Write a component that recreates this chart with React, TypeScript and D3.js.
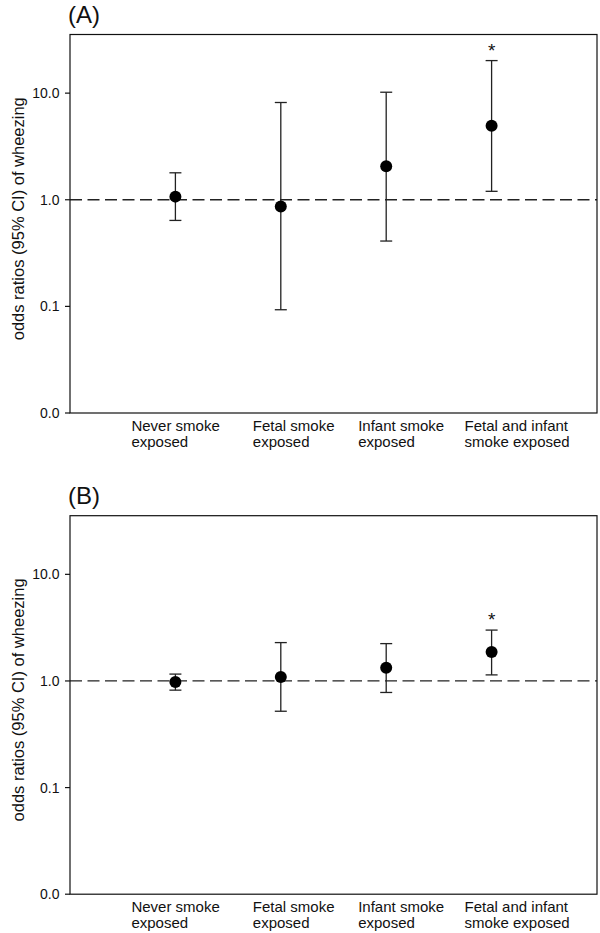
import React from "react";
import * as d3 from "d3";

const categories: string[][] = [
  ["Never smoke", "exposed"],
  ["Fetal smoke", "exposed"],
  ["Infant smoke", "exposed"],
  ["Fetal and infant", "smoke exposed"],
];

const oddsA = [1.07, 0.865, 2.06, 4.94];
const lowerA = [0.64, 0.093, 0.41, 1.2];
const upperA = [1.79, 8.17, 10.2, 20.2];
const sigA = [false, false, false, true];

const oddsB = [0.98, 1.09, 1.33, 1.87];
const lowerB = [0.82, 0.52, 0.78, 1.14];
const upperB = [1.16, 2.29, 2.24, 3.0];
const sigB = [false, false, false, true];

const yTicks = [0.01, 0.1, 1, 10];
const panelTitles = ["(A)", "(B)"];
const yLabel = "odds ratios (95% CI) of wheezing";

const FONT = "'Liberation Sans', Arial, Helvetica, sans-serif";
const W = 600;
const H = 933;
const LEFT = 70;
const RIGHT = 597;
const PLOT_H = 378.5;
const PANEL_TOPS = [34.5, 515.7];
const labelDx = [-44, -28, -28, -27];

type PanelProps = {
  top: number;
  title: string;
  odds: number[];
  lower: number[];
  upper: number[];
  sig: boolean[];
};

function Panel({ top, title, odds, lower, upper, sig }: PanelProps) {
  const bottom = top + PLOT_H;
  const y = d3.scaleLog().domain([0.01, Math.pow(10, 1.55)]).range([bottom, top]);
  const x = d3.scaleLinear().domain([0, 5]).range([LEFT, RIGHT]);
  const fmt = d3.format(".1f");
  const cap = 6;
  return (
    <g>
      <text x={68} y={top - 11.5} fontSize={24} fontFamily={FONT} fill="#111">
        {title}
      </text>
      <text
        transform={`translate(24, ${(top + bottom) / 2 - 5}) rotate(-90)`}
        textAnchor="middle"
        fontSize={16.5}
        fontFamily={FONT}
        fill="#111"
      >
        {yLabel}
      </text>
      {/* reference line at OR = 1 */}
      <line
        x1={LEFT}
        x2={RIGHT}
        y1={y(1)}
        y2={y(1)}
        stroke="#222"
        strokeWidth={1.3}
        strokeDasharray="12,5.5"
      />
      {/* frame */}
      <rect
        x={LEFT}
        y={top}
        width={RIGHT - LEFT}
        height={PLOT_H}
        fill="none"
        stroke="#111"
        strokeWidth={1.2}
      />
      {yTicks.map((t) => (
        <g key={t}>
          <line x1={LEFT - 5} x2={LEFT} y1={y(t)} y2={y(t)} stroke="#111" strokeWidth={1.2} />
          <text
            x={59.5}
            y={y(t)}
            dy="0.36em"
            textAnchor="end"
            fontSize={14}
            fontFamily={FONT}
            fill="#111"
          >
            {fmt(t)}
          </text>
        </g>
      ))}
      {odds.map((v, i) => {
        const cx = x(i + 1);
        return (
          <g key={i}>
            <line x1={cx} x2={cx} y1={y(upper[i])} y2={y(lower[i])} stroke="#222" strokeWidth={1.3} />
            <line x1={cx - cap} x2={cx + cap} y1={y(upper[i])} y2={y(upper[i])} stroke="#222" strokeWidth={1.3} />
            <line x1={cx - cap} x2={cx + cap} y1={y(lower[i])} y2={y(lower[i])} stroke="#222" strokeWidth={1.3} />
            <circle cx={cx} cy={y(v)} r={6} fill="#000" />
            {sig[i] && (
              <text
                x={cx}
                y={y(upper[i]) - 4}
                textAnchor="middle"
                fontSize={19}
                fontFamily={FONT}
                fill="#111"
              >
                *
              </text>
            )}
          </g>
        );
      })}
      {categories.map((lines, i) =>
        lines.map((l, j) => (
          <text
            key={`${i}-${j}`}
            x={x(i + 1) + labelDx[i]}
            y={bottom + 17.5 + j * 16}
            fontSize={15}
            fontFamily={FONT}
            fill="#111"
          >
            {l}
          </text>
        ))
      )}
    </g>
  );
}

export default function App() {
  return (
    <svg
      width={W}
      height={H}
      viewBox={`0 0 ${W} ${H}`}
      style={{ position: "absolute", left: 0, top: 0, display: "block", background: "#fff" }}
    >
      <rect width={W} height={H} fill="#fff" />
      <Panel top={PANEL_TOPS[0]} title={panelTitles[0]} odds={oddsA} lower={lowerA} upper={upperA} sig={sigA} />
      <Panel top={PANEL_TOPS[1]} title={panelTitles[1]} odds={oddsB} lower={lowerB} upper={upperB} sig={sigB} />
    </svg>
  );
}
